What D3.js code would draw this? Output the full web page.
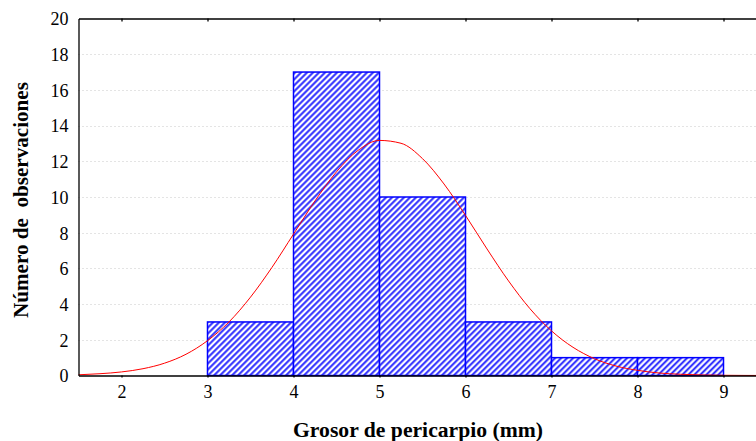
<!DOCTYPE html>
<html><head><meta charset="utf-8">
<script src="https://cdn.jsdelivr.net/npm/d3@7"></script>
<style>html,body{margin:0;padding:0;background:#fff;overflow:hidden}</style>
</head><body>
<svg id="c" width="756" height="441"></svg>
<script>
// Bin edges (mm) and counts
const binStart = [3, 4, 5, 6, 7, 8];
const binEnd   = [4, 5, 6, 7, 8, 9];
const counts   = [3, 17, 10, 3, 1, 1];
// Fitted normal curve
const curveX = [1.5,1.75,2,2.25,2.5,2.75,3,3.25,3.5,3.75,4,4.25,4.5,4.75,5,5.25,5.5,5.75,6,6.25,6.5,6.75,7,7.25,7.5,7.75,8,8.25,8.5,8.75,9,9.25,9.5];
const curveY = [0.04,0.10,0.20,0.38,0.69,1.19,1.95,3.0,4.39,6.06,7.92,9.78,11.41,12.61,13.17,13.01,12.15,10.73,8.97,7.09,5.30,3.74,2.50,1.58,0.94,0.53,0.29,0.14,0.07,0.03,0.013,0.005,0.002];
const xTicks = [2,3,4,5,6,7,8,9];
const yTicks = [0,2,4,6,8,10,12,14,16,18,20];

const svg = d3.select("#c");
const L = 78.5, T = 18.5, B = 375.5;
const x = d3.scaleLinear().domain([1.5, 9.5]).range([L, L + 8*86]);
const y = d3.scaleLinear().domain([0, 20]).range([B, T]);
const font = "'Liberation Serif','Times New Roman',Times,serif";

const defs = svg.append("defs");
const pat = defs.append("pattern").attr("id","hatch").attr("patternUnits","userSpaceOnUse")
  .attr("width",4.24).attr("height",10).attr("patternTransform","rotate(45)");
pat.append("rect").attr("width",4.24).attr("height",10).attr("fill","#fff");
pat.append("rect").attr("x",0).attr("width",2.6).attr("height",10).attr("fill","#9a9aff");
pat.append("rect").attr("x",0.6).attr("width",1.3).attr("height",10).attr("fill","#1a1aff");

// gridlines
svg.append("g").selectAll("line").data(yTicks.filter(d=>d>0&&d<20)).join("line")
  .attr("x1",L).attr("x2",756).attr("y1",d=>Math.round(y(d))+0.5).attr("y2",d=>Math.round(y(d))+0.5)
  .attr("stroke","#c8c8c8").attr("stroke-dasharray","1,3").attr("stroke-width",1);

// bars
svg.append("g").selectAll("rect").data(counts).join("rect")
  .attr("x",(d,i)=>x(binStart[i])).attr("width",(d,i)=>x(binEnd[i])-x(binStart[i]))
  .attr("y",d=>y(d)).attr("height",d=>y(0)-y(d))
  .attr("fill","url(#hatch)").attr("stroke","#0000ff").attr("stroke-width",1.5);

// curve
const line = d3.line().x(d=>x(d[0])).y(d=>y(d[1])).curve(d3.curveMonotoneX);
svg.append("path").datum(curveX.map((v,i)=>[v,curveY[i]])).attr("d",line)
  .attr("fill","none").attr("stroke","#ff0000").attr("stroke-width",1);

// axes
const axB = svg.append("g").attr("transform",`translate(0,${B})`)
  .call(d3.axisBottom(x).tickValues(xTicks).tickSize(2).tickSizeOuter(0).tickPadding(8));
const axT = svg.append("g").attr("transform",`translate(0,${T})`)
  .call(d3.axisBottom(x).tickValues(xTicks).tickSize(3).tickSizeOuter(0).tickFormat(""));
const axL = svg.append("g").attr("transform",`translate(${L},0)`)
  .call(d3.axisLeft(y).tickValues(yTicks).tickSize(0).tickPadding(10));
[axB,axT,axL].forEach(a=>{
  a.attr("font-family",null).attr("font-size",null);
  a.select(".domain").attr("stroke","#000").attr("stroke-width",1.3);
  a.selectAll(".tick line").attr("stroke","#000").attr("stroke-width",1.3);
  a.selectAll("text").style("font-family",font).style("font-size","18px").attr("fill","#000");
});
axL.selectAll("text").attr("dy","0.35em");

const xl = svg.append("text").attr("x",418).attr("y",437).attr("text-anchor","middle")
  .style("font-family",font).style("font-size","19px").attr("font-weight","bold")
  .text("Grosor de pericarpio (mm)");
const yl = svg.append("text").attr("transform","translate(28,200) rotate(-90)").attr("text-anchor","middle")
  .style("font-family",font).style("font-size","19px").attr("font-weight","bold")
  .style("white-space","pre")
  .text("Número de  observaciones");
// fit label widths to the reference
const fit = (t, w) => { const n = t.node().getComputedTextLength(); if (n > 0) t.style("font-size", (19 * w / n).toFixed(2) + "px"); };
fit(xl, 250); fit(yl, 236);
</script>
</body></html>
